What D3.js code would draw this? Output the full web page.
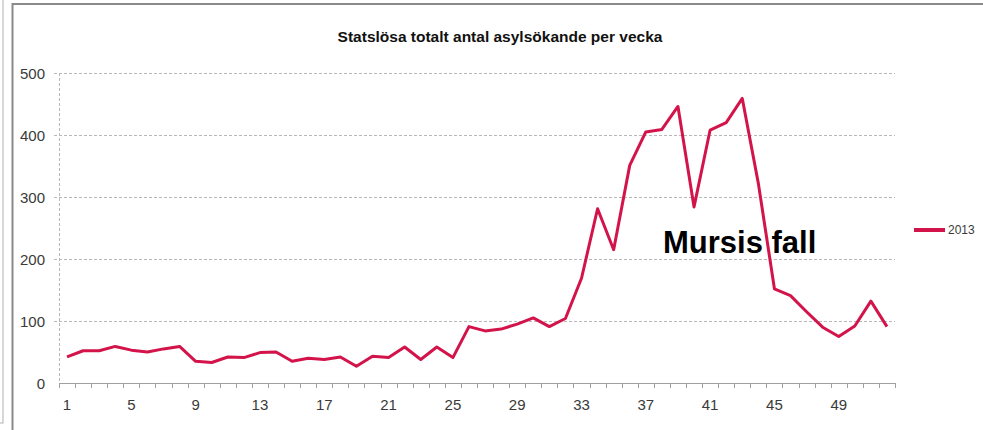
<!DOCTYPE html>
<html>
<head>
<meta charset="utf-8">
<script src="https://cdn.jsdelivr.net/npm/d3@7"></script>
<style>
  body { margin: 0; background: #fff; }
  svg { display: block; }
  text { font-family: "Liberation Sans Narrow", "Arial Narrow", "Liberation Sans", Arial, sans-serif; }
</style>
</head>
<body>
<svg width="983" height="430"></svg>
<script>
// weeks 1..52, 2013
const weeks = d3.range(1, 53);
const values2013 = [
  42, 52, 52, 59, 53, 50, 55, 59, 35, 33,
  42, 41, 49, 50, 35, 40, 38, 42, 27, 43,
  41, 58, 38, 58, 41, 91, 84, 87, 95, 105,
  91, 104, 169, 281, 215, 351, 405, 409, 446, 284,
  408, 420, 459, 322, 152, 141, 115, 90, 75, 92,
  132, 91
];
const yTicks = [0, 100, 200, 300, 400, 500];
const xLabels = [1, 5, 9, 13, 17, 21, 25, 29, 33, 37, 41, 45, 49];
const seriesName = "2013";
const title = "Statslösa totalt antal asylsökande per vecka";
const annotation = "Mursis fall";

const red = "#d3144a";

const svg = d3.select("svg");

// frames of the surrounding sheet
svg.append("rect")
  .attr("x", -5).attr("y", -5).attr("width", 8).attr("height", 428)
  .attr("fill", "none").attr("stroke", "#b0b0b0").attr("stroke-width", 1);
svg.append("path")
  .attr("d", "M12.5,440V4H990")
  .attr("fill", "none").attr("stroke", "#8a8a8a").attr("stroke-width", 2);

const x = d3.scaleBand().domain(weeks).range([59, 895]);
const y = d3.scaleLinear().domain([0, 500]).range([383, 73]);

// gridlines
svg.append("g")
  .selectAll("line")
  .data(yTicks.filter(d => d > 0))
  .join("line")
  .attr("x1", 54).attr("x2", 895)
  .attr("y1", d => y(d) + 0.5).attr("y2", d => y(d) + 0.5)
  .attr("stroke", "#b8b8b8")
  .attr("stroke-dasharray", "3,2");

// y axis line (dashed like the grid)
svg.append("line")
  .attr("x1", 59.5).attr("x2", 59.5)
  .attr("y1", y(500)).attr("y2", y(0))
  .attr("stroke", "#b8b8b8")
  .attr("stroke-dasharray", "3,2");

svg.append("g")
  .selectAll("text")
  .data(yTicks)
  .join("text")
  .attr("x", 45)
  .attr("y", d => y(d) + 5.5)
  .attr("text-anchor", "end")
  .attr("font-size", 15)
  .attr("fill", "#3a3a3a")
  .text(d => d);

// x axis with ticks between categories
const xAxis = d3.axisBottom(x)
  .tickValues(xLabels)
  .tickSize(0)
  .tickPadding(16);
const gx = svg.append("g")
  .attr("transform", `translate(0,${y(0)})`)
  .call(xAxis);
gx.select(".domain").attr("stroke", "#a0a0a0").attr("d", `M59,0.5H895`);
gx.selectAll("text")
  .attr("font-family", null)
  .attr("font-size", 15)
  .attr("fill", "#3a3a3a");

const tickPos = weeks.map(w => x(w)).concat([895]);
gx.append("g")
  .selectAll("line")
  .data(tickPos)
  .join("line")
  .attr("x1", d => Math.round(d) + 0.5).attr("x2", d => Math.round(d) + 0.5)
  .attr("y1", 0).attr("y2", 5)
  .attr("stroke", "#a0a0a0");

// series line
const line = d3.line()
  .x((d, i) => x(weeks[i]) + x.bandwidth() / 2)
  .y(d => y(d));

svg.append("path")
  .datum(values2013)
  .attr("d", line)
  .attr("fill", "none")
  .attr("stroke", red)
  .attr("stroke-width", 3)
  .attr("stroke-linejoin", "round");

// title
svg.append("text")
  .attr("x", 500)
  .attr("y", 42)
  .attr("text-anchor", "middle")
  .attr("font-size", 15.5)
  .attr("font-weight", "bold")
  .attr("fill", "#111")
  .text(title);

// annotation
svg.append("text")
  .attr("x", 663)
  .attr("y", 253)
  .attr("font-family", "Liberation Sans, Arial, sans-serif")
  .attr("font-size", 31)
  .attr("font-weight", "bold")
  .attr("fill", "#000")
  .text(annotation);

// legend
const legend = svg.append("g").attr("transform", "translate(914,230)");
legend.append("line")
  .attr("x1", 0).attr("x2", 31)
  .attr("stroke", red).attr("stroke-width", 4);
legend.append("text")
  .attr("x", 34).attr("y", 4)
  .attr("font-size", 12)
  .attr("fill", "#3a3a3a")
  .text(seriesName);
</script>
</body>
</html>
